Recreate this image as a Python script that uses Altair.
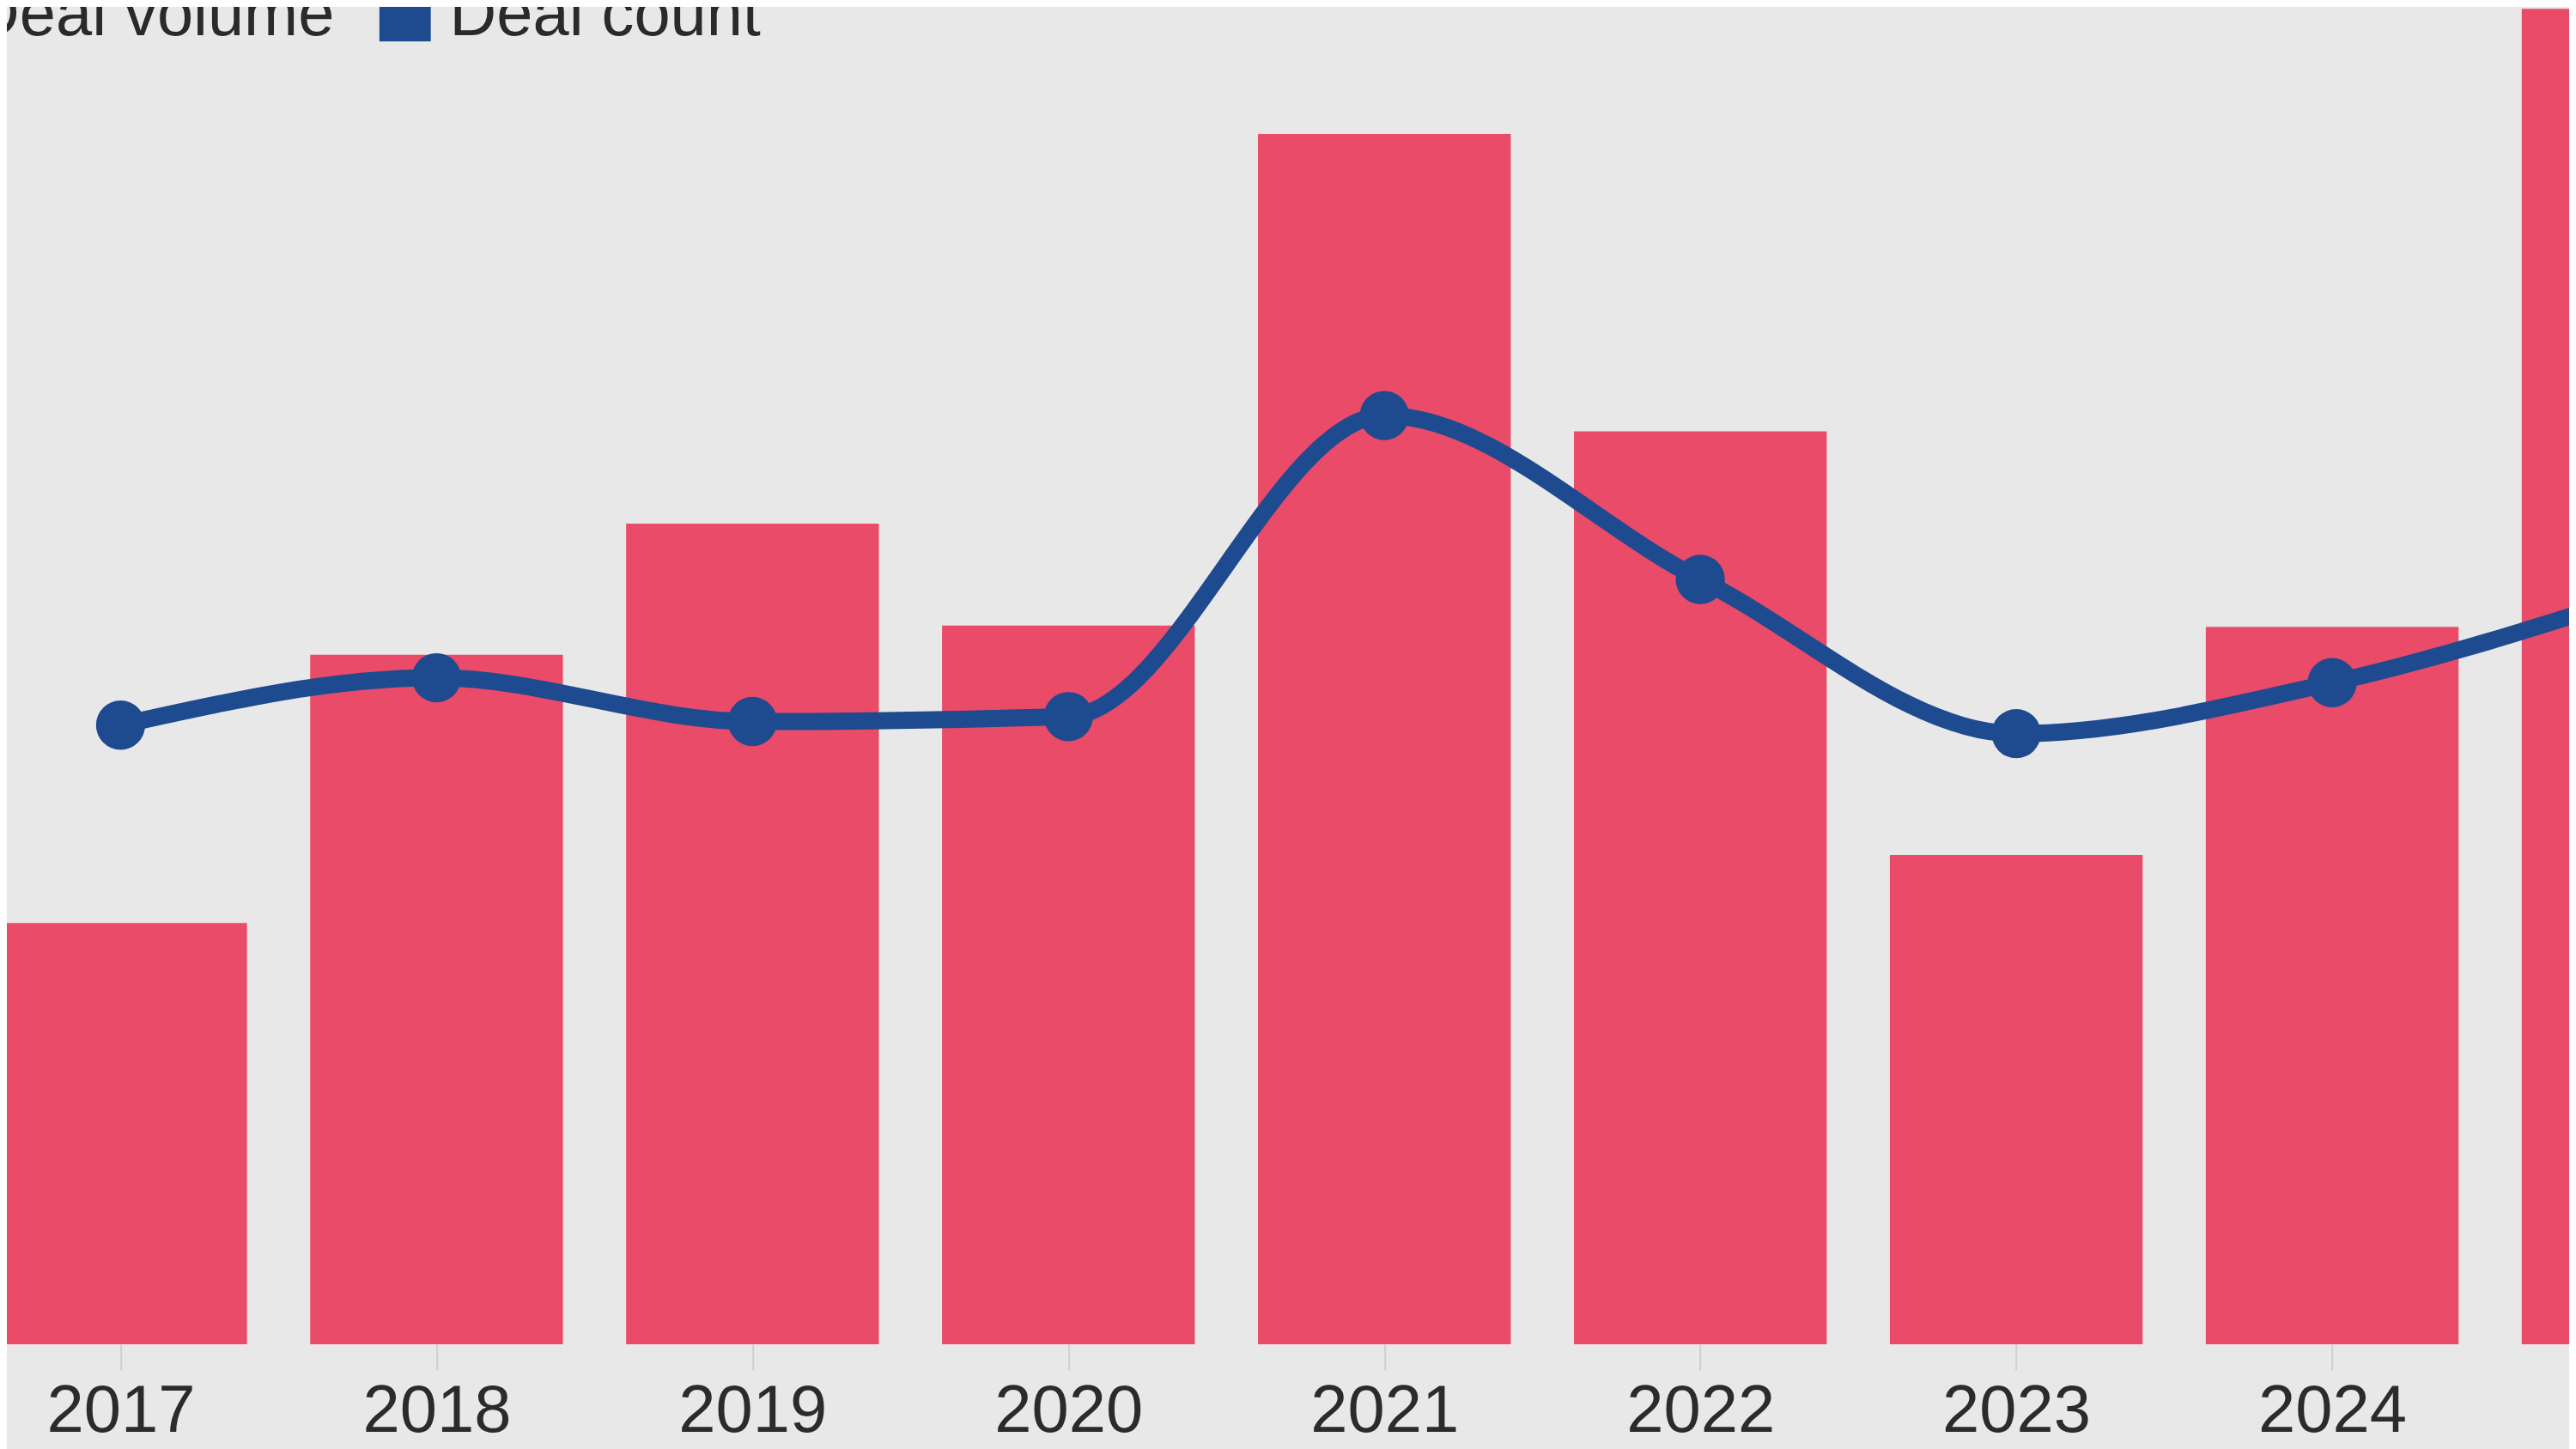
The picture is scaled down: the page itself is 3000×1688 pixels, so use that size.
import altair as alt
import pandas as pd

# ---- data ----
years = [2017, 2018, 2019, 2020, 2021, 2022, 2023, 2024, 2025]
deal_volume = [34.7, 56.8, 67.6, 59.2, 99.7, 75.2, 40.3, 59.1, 112.0]
deal_count = [51.0, 54.9, 51.3, 51.7, 76.5, 63.0, 50.3, 54.5, 62.0]
series_names = ["Deal volume", "Deal count"]
series_colors = ["#E94B68", "#1E4B8F"]

df = pd.DataFrame({"year": years, "volume": deal_volume, "count": deal_count})

x_scale = alt.Scale(domain=[2016.64, 2024.75], nice=False, zero=False)
y_scale = alt.Scale(domain=[0, 110], nice=False)

x_axis = alt.Axis(
    values=years[:-1], format="d", title=None, grid=False, domain=False,
    labelFontSize=78, labelFont="Liberation Sans", labelColor="#2b2b2b",
    tickSize=30, tickColor="#cfcfcf", tickWidth=2, labelPadding=10,
)

color = alt.Color(
    "series:N",
    scale=alt.Scale(domain=series_names, range=series_colors),
    legend=alt.Legend(
        title=None, orient="none", legendX=-130, legendY=-30,
        direction="horizontal", symbolType="square", symbolSize=3600,
        labelFontSize=76, labelFont="Liberation Sans", labelColor="#2a2a2a",
        labelOffset=14, columnPadding=44, symbolStrokeWidth=0, labelLimit=2000,
    ),
)

base = alt.Chart(df)

bars = base.transform_calculate(
    x0="datum.year - 0.4", x1="datum.year + 0.4", series="'Deal volume'"
).mark_rect(clip=True).encode(
    x=alt.X("x0:Q", scale=x_scale, axis=x_axis),
    x2="x1:Q",
    y=alt.Y("volume:Q", scale=y_scale, axis=None),
    y2=alt.datum(0),
    color=color,
)

line = base.transform_calculate(series="'Deal count'").mark_line(
    interpolate="monotone", strokeWidth=20, clip=True, strokeCap="round"
).encode(
    x=alt.X("year:Q", scale=x_scale, axis=x_axis),
    y=alt.Y("count:Q", scale=y_scale, axis=None),
    color=color,
)

points = base.transform_calculate(series="'Deal count'").mark_circle(
    size=3300, opacity=1, clip=True
).encode(
    x=alt.X("year:Q", scale=x_scale, axis=x_axis),
    y=alt.Y("count:Q", scale=y_scale, axis=None),
    color=color,
)

chart = alt.layer(bars, line, points).properties(
    width=2992, height=1560,
    autosize=alt.AutoSizeParams(type="none"),
    padding={"left": 0, "top": 0, "right": 0, "bottom": 120},
    background="#e8e8e8",
).configure_view(stroke=None)

chart.save("out.html", embed_options={"renderer": "svg", "actions": False})
